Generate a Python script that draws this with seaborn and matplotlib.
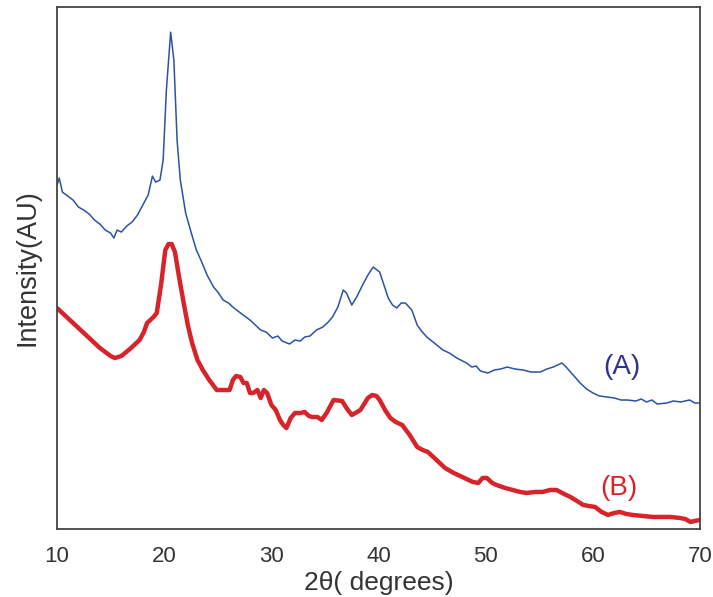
import pandas as pd
import matplotlib
matplotlib.use("Agg")
import matplotlib.pyplot as plt
import seaborn as sns

# sample (A) - blue trace
blue_2theta = [
    10.0, 10.2, 10.5, 11.0, 11.5, 12.0, 12.5, 13.0, 13.5, 14.0,
    14.5, 15.0, 15.3, 15.6, 16.0, 16.5, 17.0, 17.5, 18.0, 18.5,
    18.9, 19.2, 19.6, 19.9, 20.2, 20.6, 20.9, 21.2, 21.5, 22.0,
    22.5, 23.0, 23.5, 24.0, 24.6, 25.0, 25.5, 26.0, 26.4, 27.0,
    27.5, 28.0, 28.3, 29.0, 29.5, 30.1, 30.6, 31.0, 31.7, 32.2,
    32.7, 33.1, 33.6, 34.2, 34.8, 35.3, 35.7, 36.2, 36.7, 37.0,
    37.5, 38.0, 38.5, 39.0, 39.5, 40.1, 40.5, 40.9, 41.3, 41.7,
    42.1, 42.5, 43.1, 43.6, 44.0, 44.5, 45.2, 46.0, 46.6, 47.3,
    48.2, 48.7, 49.1, 49.5, 50.2, 50.8, 51.4, 52.0, 52.7, 53.5,
    54.2, 55.1, 55.7, 56.3, 57.1, 57.5, 57.9, 58.4, 58.8, 59.4,
    60.0, 60.6, 61.3, 62.0, 62.6, 63.2, 64.0, 64.5, 65.0, 65.5,
    66.0, 66.9, 67.5, 68.2, 69.0, 69.5, 70.0,
]
blue_intensity = [
    344, 351, 337, 333, 329, 322, 319, 315, 309, 305,
    299, 296, 291, 299, 297, 303, 307, 314, 324, 334,
    353, 347, 349, 369, 439, 497, 469, 389, 349, 316,
    297, 279, 267, 254, 242, 237, 229, 226, 222, 217,
    213, 209, 206, 199, 197, 191, 193, 188, 185, 189,
    188, 192, 193, 199, 202, 207, 212, 222, 239, 236,
    224, 233, 244, 254, 262, 257, 244, 231, 224, 221,
    226, 226, 219, 204, 198, 192, 186, 179, 176, 171,
    166, 162, 163, 158, 156, 159, 160, 162, 160, 159,
    157, 157, 160, 162, 166, 162, 157, 151, 146, 140,
    136, 133, 132, 131, 129, 129, 128, 130, 127, 129,
    125, 126, 128, 127, 129, 126, 126,
]

# sample (B) - red trace
red_2theta = [
    10.0, 11.0, 12.0, 13.0, 14.0, 15.0, 15.4, 16.0, 16.8, 17.7,
    18.1, 18.4, 19.0, 19.3, 19.7, 20.1, 20.4, 20.7, 21.0, 21.4,
    21.8, 22.2, 22.6, 23.1, 23.6, 24.2, 24.9, 25.5, 26.1, 26.4,
    26.7, 27.1, 27.4, 27.7, 28.0, 28.3, 28.7, 29.0, 29.3, 29.6,
    30.0, 30.4, 30.8, 31.1, 31.4, 31.8, 32.2, 32.7, 33.1, 33.5,
    33.8, 34.3, 34.7, 35.2, 35.8, 36.6, 37.0, 37.5, 38.0, 38.3,
    39.0, 39.4, 39.8, 40.1, 40.6, 41.1, 41.6, 42.2, 42.9, 43.6,
    44.1, 44.6, 45.4, 46.2, 47.0, 47.8, 48.4, 48.8, 49.3, 49.7,
    50.1, 50.6, 51.0, 51.8, 52.5, 53.2, 53.8, 54.6, 55.3, 56.0,
    56.6, 57.3, 57.9, 58.5, 59.1, 59.6, 60.2, 60.8, 61.4, 62.0,
    62.5, 63.1, 63.7, 64.6, 65.6, 66.4, 67.2, 68.1, 68.6, 69.1,
    69.5, 70.0,
]
red_intensity = [
    221, 211, 201, 191, 181, 173, 171, 173, 180, 189,
    197, 206, 212, 216, 244, 279, 285, 285, 277, 251,
    227, 204, 186, 169, 159, 149, 139, 139, 139, 149,
    153, 152, 146, 146, 136, 136, 139, 131, 139, 136,
    124, 119, 109, 104, 101, 111, 116, 116, 117, 113,
    112, 112, 109, 117, 129, 128, 121, 114, 117, 119,
    131, 134, 133, 129, 119, 111, 107, 104, 94, 82,
    79, 77, 69, 61, 56, 52, 49, 47, 46, 51,
    51, 46, 44, 41, 39, 37, 36, 37, 37, 39,
    39, 35, 32, 28, 24, 23, 22, 17, 14, 16,
    17, 15, 14, 13, 12, 12, 12, 11, 10, 7,
    8, 9,
]

x_ticks = [10, 20, 30, 40, 50, 60, 70]

sns.set_style("white")
plt.rcParams['font.family'] = ['Liberation Sans', 'DejaVu Sans']

df_a = pd.DataFrame({'two_theta': blue_2theta, 'intensity': blue_intensity})
df_b = pd.DataFrame({'two_theta': red_2theta, 'intensity': red_intensity})

fig = plt.figure(figsize=(7.13, 5.97), dpi=100)
ax = fig.add_axes([0.080, 0.114, 0.902, 0.874])

sns.lineplot(data=df_a, x='two_theta', y='intensity', ax=ax,
             color='#2b52a3', linewidth=1.1, sort=False)
sns.lineplot(data=df_b, x='two_theta', y='intensity', ax=ax,
             color='#d7242a', linewidth=3.2, sort=False,
             solid_joinstyle='round', solid_capstyle='round')

ax.text(62.7, 162, '(A)', color='#2e3586', fontsize=20, ha='center', va='center')
ax.text(62.4, 41, '(B)', color='#d7242a', fontsize=20, ha='center', va='center')

ax.set_xlim(10, 70)
ax.set_ylim(0, 522)
ax.set_xticks(x_ticks)
ax.set_yticks([])
ax.tick_params(axis='x', direction='in', length=7, width=1.2, colors='#333333',
               labelsize=16, pad=12)
for s in ax.spines.values():
    s.set_color('#444444')
    s.set_linewidth(1.3)

ax.set_xlabel('2θ( degrees)', fontsize=19, color='#333333', labelpad=3)
ax.set_ylabel('Intensity(AU)', fontsize=19.5, color='#333333', labelpad=12)

fig.savefig('out.png', dpi=100)
